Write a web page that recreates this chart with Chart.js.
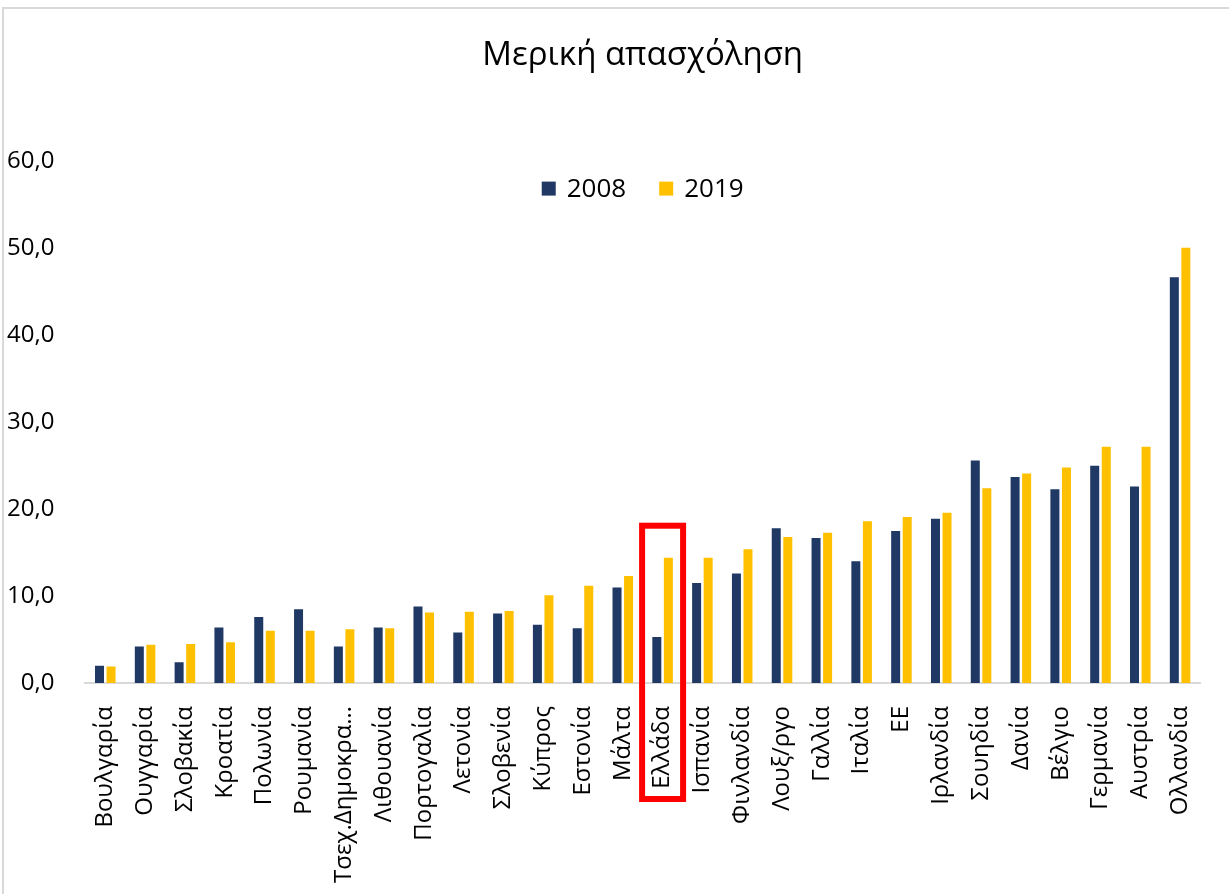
<!DOCTYPE html>
<html>
<head>
<meta charset="utf-8">
<script src="https://cdn.jsdelivr.net/npm/chart.js@4.4.0/dist/chart.umd.min.js"></script>
<style>
  html, body { margin: 0; padding: 0; background: #fff; }
  #wrap { width: 1229px; height: 894px; position: relative; }
</style>
</head>
<body>
<div id="wrap"><canvas id="chart"></canvas></div>
<script>
// data
const countries = ["Βουλγαρία", "Ουγγαρία", "Σλοβακία", "Κροατία", "Πολωνία", "Ρουμανία",
  "Τσεχ.Δημοκρα…", "Λιθουανία", "Πορτογαλία", "Λετονία", "Σλοβενία", "Κύπρος", "Εστονία",
  "Μάλτα", "Ελλάδα", "Ισπανία", "Φινλανδία", "Λουξ/ργο", "Γαλλία", "Ιταλία", "ΕΕ",
  "Ιρλανδία", "Σουηδία", "Δανία", "Βέλγιο", "Γερμανία", "Αυστρία", "Ολλανδία"];
const values2008 = [2.0, 4.2, 2.4, 6.4, 7.6, 8.5, 4.2, 6.4, 8.8, 5.8, 8.0, 6.7, 6.3,
  11.0, 5.3, 11.5, 12.6, 17.8, 16.7, 14.0, 17.5, 18.9, 25.6, 23.7, 22.3, 25.0, 22.6, 46.7];
const values2019 = [1.9, 4.4, 4.5, 4.7, 6.0, 6.0, 6.2, 6.3, 8.1, 8.2, 8.3, 10.1, 11.2,
  12.3, 14.4, 14.4, 15.4, 16.8, 17.3, 18.6, 19.1, 19.6, 22.4, 24.1, 24.8, 27.2, 27.2, 50.1];
const seriesLabels = ["2008", "2019"];
const highlight = "Ελλάδα";

const FONT = "'Open Sans', 'Noto Sans', sans-serif";

// outer frame of the chart (only top and left edges show)
const framePlugin = {
  id: "frame",
  beforeDraw(chart) {
    const ctx = chart.ctx;
    ctx.save();
    ctx.strokeStyle = "#d9d9d9";
    ctx.lineWidth = 2;
    ctx.beginPath();
    ctx.moveTo(3, chart.height);
    ctx.lineTo(3, 8);
    ctx.lineTo(chart.width, 8);
    ctx.stroke();
    ctx.restore();
  },
};

// legend sits inside the plot area, so draw it by hand
const innerLegend = {
  id: "innerLegend",
  afterDraw(chart) {
    const ctx = chart.ctx;
    const area = chart.chartArea;
    const y = area.top + 27;
    ctx.save();
    ctx.font = "26px " + FONT;
    ctx.textBaseline = "middle";
    const box = 14, gap = 11, spacing = 33;
    let widths = chart.data.datasets.map((d) => box + gap + ctx.measureText(d.label).width);
    let total = widths.reduce((a, b) => a + b, 0) + spacing * (widths.length - 1);
    let x = (area.left + area.right) / 2 - total / 2;
    chart.data.datasets.forEach((d, i) => {
      ctx.fillStyle = d.backgroundColor;
      ctx.fillRect(x, y - box / 2, box, box);
      ctx.fillStyle = "#000";
      ctx.fillText(d.label, x + box + gap, y + 1);
      x += widths[i] + spacing;
    });
    ctx.restore();
  },
};

// red box round Greece
const highlightBox = {
  id: "highlightBox",
  afterDraw(chart) {
    const xs = chart.scales.x, ys = chart.scales.y;
    const i = countries.indexOf(highlight);
    const cx = xs.getPixelForValue(i);
    const ctx = chart.ctx;
    ctx.save();
    ctx.strokeStyle = "#ff0000";
    ctx.lineWidth = 6;
    const top = ys.getPixelForValue(18.1);
    ctx.strokeRect(cx - 20.5, top, 41, chart.chartArea.bottom + 116 - top);
    ctx.restore();
  },
};

const chart = new Chart(document.getElementById("chart"), {
  type: "bar",
  data: {
    labels: countries,
    datasets: [
      { label: seriesLabels[0], data: values2008, backgroundColor: "#203864" },
      { label: seriesLabels[1], data: values2019, backgroundColor: "#ffc000" },
    ],
  },
  options: {
    responsive: true,
    maintainAspectRatio: false,
    animation: false,
    categoryPercentage: 0.58,
    barPercentage: 0.78,
    layout: { padding: { left: -16, right: 29, top: 0, bottom: -4 } },
    plugins: {
      legend: { display: false },
      tooltip: { enabled: false },
      title: {
        display: true,
        fullSize: false,
        text: "Μερική απασχόληση",
        color: "#000",
        font: { family: FONT, size: 33, weight: "normal" },
        padding: { top: 36, bottom: 86 },
      },
    },
    scales: {
      x: {
        grid: { display: false },
        border: { display: true, color: "#d9d9d9", width: 2 },
        ticks: {
          autoSkip: false,
          maxRotation: 90,
          minRotation: 90,
          padding: 15,
          color: "#000",
          font: { family: FONT, size: 24 },
        },
      },
      y: {
        min: 0,
        max: 60,
        grid: { display: false },
        border: { display: false },
        ticks: {
          stepSize: 10,
          padding: 23,
          color: "#000",
          font: { family: FONT, size: 24 },
          callback: (v) => v.toFixed(1).replace(".", ","),
        },
      },
    },
  },
  plugins: [framePlugin, innerLegend, highlightBox],
});
</script>
</body>
</html>
